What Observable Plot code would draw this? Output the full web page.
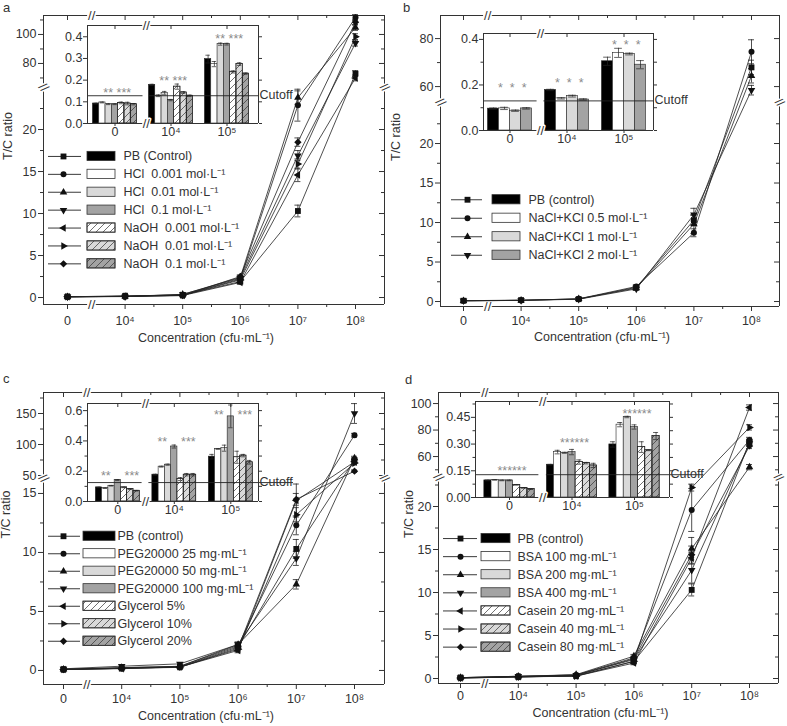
<!DOCTYPE html>
<html><head><meta charset="utf-8">
<script src="https://cdn.jsdelivr.net/npm/d3@7"></script>
<script src="https://cdn.jsdelivr.net/npm/@observablehq/plot@0.6"></script>
<style>
body{margin:0;background:#fff;font-family:"Liberation Sans",Arial,sans-serif;}
#page{position:relative;width:787px;height:726px;overflow:hidden;background:#fff;}
.abs{position:absolute;}
.abs svg{display:block;overflow:visible;}
.letter{position:absolute;font-size:13px;line-height:1;color:#333;}
</style></head>
<body>
<svg width="0" height="0" style="position:absolute">
<defs>
<pattern id="hatch" patternUnits="userSpaceOnUse" width="7" height="7">
<path d="M0,7 L7,0 M-1,1 L1,-1 M6,8 L8,6" stroke="#333" stroke-width="0.7" fill="none"/>
</pattern>
</defs></svg>
<div id="page">
<div class="letter" style="left:3px;top:1px">a</div>
<div class="letter" style="left:403px;top:1px">b</div>
<div class="letter" style="left:3px;top:372px">c</div>
<div class="letter" style="left:405px;top:373px">d</div>
</div>
<script>
// ---------- shared labels ----------
const xLabels = ["0", "10⁴", "10⁵", "10⁶", "10⁷", "10⁸"];
const insetLabels = ["0", "10⁴", "10⁵"];
const xLabelText = "Concentration (cfu·mL⁻¹)";
const yLabelText = "T/C ratio";

// ---------- panel a ----------
const aNames = ["PB (Control)", "HCl  0.001 mol·L⁻¹", "HCl  0.01 mol·L⁻¹", "HCl  0.1 mol·L⁻¹",
  "NaOH  0.001 mol·L⁻¹", "NaOH  0.01 mol·L⁻¹", "NaOH  0.1 mol·L⁻¹"];
const aValues = [
  [0.09, 0.18, 0.30, 1.9, 10.3, 73],
  [0.10, 0.13, 0.27, 2.2, 22.9, 111.7],
  [0.09, 0.14, 0.37, 2.4, 23.8, 104.8],
  [0.09, 0.11, 0.37, 2.3, 16.9, 94],
  [0.10, 0.17, 0.24, 1.8, 14.6, 70],
  [0.09, 0.14, 0.27, 2.1, 15.9, 98.5],
  [0.09, 0.13, 0.23, 2.5, 18.5, 108.5]];
const aErrors = [
  [0, 0, 0, 0.2, 0.7, 2], [0, 0, 0, 0.2, 1.9, 2], [0, 0, 0, 0.2, 0.8, 2], [0, 0, 0, 0.2, 0.6, 2],
  [0, 0, 0, 0.2, 0.8, 2], [0, 0, 0, 0.2, 0.6, 2], [0, 0, 0, 0.2, 0.5, 2]];
const aInset = [
  [0.092, 0.178, 0.297], [0.097, 0.128, 0.274], [0.089, 0.140, 0.366], [0.089, 0.108, 0.366],
  [0.095, 0.170, 0.238], [0.092, 0.143, 0.274], [0.089, 0.128, 0.230]];
const aInsetErr = [
  [0.002, 0.003, 0.018], [0.002, 0.004, 0.012], [0.002, 0.008, 0.005], [0.002, 0.003, 0.004],
  [0.004, 0.012, 0.005], [0.006, 0.004, 0.006], [0.003, 0.003, 0.003]];
const aStars = ["** ***", "** ***", "** ***"];
const aStarY = [0.155, 0.21, 0.405];
const aCutoff = 0.128;

// ---------- panel b ----------
const bNames = ["PB (control)", "NaCl+KCl 0.5 mol·L⁻¹", "NaCl+KCl 1 mol·L⁻¹", "NaCl+KCl 2 mol·L⁻¹"];
const bValues = [
  [0.10, 0.18, 0.30, 1.8, 10.3, 68],
  [0.10, 0.14, 0.34, 1.9, 8.7, 74.5],
  [0.09, 0.15, 0.34, 1.7, 9.8, 64.5],
  [0.10, 0.14, 0.29, 1.6, 11.0, 58.5]];
const bErrors = [[0, 0, 0, 0.2, 0.6, 3], [0, 0, 0, 0.2, 0.5, 5], [0, 0, 0, 0.2, 1.2, 3], [0, 0, 0, 0.2, 0.8, 2]];
const bInset = [[0.096, 0.178, 0.304], [0.097, 0.141, 0.341], [0.087, 0.151, 0.336], [0.097, 0.136, 0.289]];
const bInsetErr = [[0.003, 0.003, 0.018], [0.005, 0.003, 0.02], [0.003, 0.004, 0.004], [0.003, 0.003, 0.018]];
const bStars = ["*  *  *", "*  *  *", "*  *  *"];
const bStarY = [0.2, 0.22, 0.39];
const bCutoff = 0.13;

// ---------- panel c ----------
const cNames = ["PB (control)", "PEG20000 25 mg·mL⁻¹", "PEG20000 50 mg·mL⁻¹", "PEG20000 100 mg·mL⁻¹",
  "Glycerol 5%", "Glycerol 10%", "Glycerol 20%"];
const cValues = [
  [0.09, 0.18, 0.30, 2.0, 10.3, 75],
  [0.09, 0.23, 0.35, 2.1, 12.3, 115],
  [0.10, 0.24, 0.35, 2.2, 7.3, 78],
  [0.14, 0.36, 0.56, 2.2, 9.5, 150],
  [0.09, 0.15, 0.29, 1.7, 14.4, 72],
  [0.08, 0.18, 0.30, 1.8, 13.2, 70],
  [0.07, 0.18, 0.26, 1.9, 14.5, 57]];
const cErrors = [
  [0, 0, 0, 0.2, 0.8, 3], [0, 0, 0, 0.2, 0.8, 3], [0, 0, 0, 0.2, 0.4, 3], [0, 0, 0, 0.2, 0.6, 16],
  [0, 0, 0, 0.2, 1.4, 3], [0, 0, 0, 0.2, 0.6, 3], [0, 0, 0, 0.2, 0.5, 2]];
const cInset = [
  [0.093, 0.177, 0.296], [0.088, 0.230, 0.347], [0.104, 0.243, 0.352], [0.142, 0.363, 0.562],
  [0.093, 0.148, 0.292], [0.082, 0.177, 0.303], [0.071, 0.177, 0.259]];
const cInsetErr = [
  [0.002, 0.003, 0.015], [0.002, 0.003, 0.003], [0.002, 0.004, 0.02], [0.003, 0.01, 0.075],
  [0.002, 0.01, 0.04], [0.002, 0.008, 0.008], [0.002, 0.008, 0.012]];
const cStars = ["**    ***", "**    ***", "**    ***"];
const cStarY = [0.19, 0.41, 0.59];
const cCutoff = 0.125;

// ---------- panel d ----------
const dNames = ["PB (control)", "BSA 100 mg·mL⁻¹", "BSA 200 mg·mL⁻¹", "BSA 400 mg·mL⁻¹",
  "Casein 20 mg·mL⁻¹", "Casein 40 mg·mL⁻¹", "Casein 80 mg·mL⁻¹"];
const dValues = [
  [0.10, 0.18, 0.30, 2.0, 10.3, 71],
  [0.10, 0.26, 0.41, 2.4, 19.6, 72.5],
  [0.10, 0.25, 0.45, 2.6, 15.1, 52],
  [0.10, 0.26, 0.40, 2.2, 12.6, 70],
  [0.07, 0.20, 0.28, 1.8, 14.0, 97],
  [0.05, 0.19, 0.27, 2.0, 22.2, 82],
  [0.05, 0.18, 0.35, 2.3, 14.4, 68]];
const dErrors = [
  [0, 0, 0, 0.2, 0.7, 2], [0, 0, 0, 0.2, 2.5, 2], [0, 0, 0, 0.2, 1.3, 2], [0, 0, 0, 0.2, 1.5, 2],
  [0, 0, 0, 0.2, 0.7, 2], [0, 0, 0, 0.2, 0.4, 2], [0, 0, 0, 0.2, 1.0, 2]];
const dInset = [
  [0.096, 0.184, 0.298], [0.099, 0.255, 0.409], [0.096, 0.251, 0.452], [0.096, 0.255, 0.396],
  [0.071, 0.199, 0.283], [0.054, 0.193, 0.265], [0.047, 0.180, 0.345]];
const dInsetErr = [
  [0.002, 0.002, 0.015], [0.002, 0.01, 0.012], [0.002, 0.003, 0.004], [0.002, 0.015, 0.012],
  [0.002, 0.012, 0.03], [0.002, 0.004, 0.002], [0.002, 0.012, 0.02]];
const dStars = ["******", "******", "******"];
const dStarY = [0.165, 0.325, 0.485];
const dCutoff = 0.128;

// ---------- styling tables ----------
const sym7 = ["square", "circle", "up", "down", "left", "right", "diamond"];
const sym4 = ["square", "circle", "up", "down"];
const fill7 = ["#000", "#fff", "#d9d9d9", "#a3a3a3", "#fff", "#d9d9d9", "#a3a3a3"];
const fill4 = ["#000", "#fff", "#d9d9d9", "#a3a3a3"];
const hatch7 = [0, 0, 0, 0, 1, 1, 1];
const hatch4 = [0, 0, 0, 0];

const s3 = Math.sqrt(3);
const tri = rot => ({draw(ctx, size) {
  const y = -Math.sqrt(size / (s3 * 3));
  const p = [[0, 2 * y], [-s3 * y, -y], [s3 * y, -y]].map(([a, b]) => rot(a, b));
  ctx.moveTo(p[0][0], p[0][1]); ctx.lineTo(p[1][0], p[1][1]); ctx.lineTo(p[2][0], p[2][1]); ctx.closePath();
}});
const diamond2 = d3.symbolDiamond2 || {draw(ctx, size) {
  const r = Math.sqrt(size) * 0.7071; ctx.moveTo(0, -r); ctx.lineTo(r, 0); ctx.lineTo(0, r); ctx.lineTo(-r, 0); ctx.closePath();
}};
const SYM = {square: d3.symbolSquare, circle: d3.symbolCircle, up: tri((a, b) => [a, b]), down: tri((a, b) => [a, -b]),
  left: tri((a, b) => [b, a]), right: tri((a, b) => [-b, a]), diamond: diamond2};
const RAD = {square: 3.3, circle: 3.0, up: 2.8, down: 2.8, left: 2.8, right: 2.8, diamond: 3.3};
const INK = "#333";
const page = document.getElementById("page");

function place(svg, left, top, w, h) {
  const div = document.createElement("div");
  div.className = "abs";
  div.style.left = left + "px"; div.style.top = top + "px";
  div.style.width = w + "px"; div.style.height = h + "px";
  div.appendChild(svg);
  page.appendChild(div);
}
const baseStyle = {background: "transparent", fontFamily: "'Liberation Sans', Arial, sans-serif", fontSize: "12px", color: INK, overflow: "visible"};
const brk = {text: d => d, fill: INK, stroke: "white", strokeWidth: 3, fontSize: 13};

function mainPanel(p) {
  const H = p.hL + p.gap + p.hU;
  const f = v => v < p.split ? (v - p.l0) * p.kL : p.hL + p.gap + (v - p.u0) * p.kU;
  const xmin = (p.L - p.x0) / p.dx, xmax = (p.R - p.x0) / p.dx;
  const mL = p.mL, mR = 8, mT = 4, mB = 46;
  const W = (p.R - p.L) + mL + mR;
  const rows = [];
  p.names.forEach((n, s) => p.values[s].forEach((v, i) => rows.push({s, i, v, e: p.errors[s][i]})));
  const errRows = rows.filter(d => d.e > 0);
  const cap = 3 / p.dx;
  const yMaj = [...p.majL, ...p.majU], yMin = [...p.minL, ...p.minU];
  const yMajF = yMaj.map(f), yMinF = yMin.map(f);
  const gx = 0.07;
  const xMaj = [0, 1, 2, 3, 4, 5], xMin = [1.5, 2.5, 3.5, 4.5];
  const marks = [
    Plot.ruleX([xmin, xmax], {x: d => d, y1: 0, y2: p.hL, stroke: INK}),
    Plot.ruleX([xmin, xmax], {x: d => d, y1: p.hL + p.gap, y2: H, stroke: INK}),
    Plot.ruleY([0, H], {y: d => d, x1: xmin, x2: p.xbrk - gx, stroke: INK}),
    Plot.ruleY([0, H], {y: d => d, x1: p.xbrk + gx, x2: xmax, stroke: INK}),
    Plot.axisY({ticks: yMajF, tickFormat: d => String(yMaj[yMajF.indexOf(d)]), tickSize: 5, tickPadding: 2, fontSize: 12.5, label: null}),
    Plot.axisY({ticks: yMinF, tickFormat: () => "", tickSize: 3, label: null}),
    Plot.ruleY(yMajF, {y: d => d, x1: xmax - 5 / p.dx, x2: xmax, stroke: INK}),
    Plot.ruleY(yMinF, {y: d => d, x1: xmax - 3 / p.dx, x2: xmax, stroke: INK}),
    Plot.axisX({ticks: xMaj, tickFormat: i => xLabels[i], tickSize: 5, tickPadding: p.xPad, fontSize: 12.5, label: null}),
    Plot.axisX({ticks: xMin, tickFormat: () => "", tickSize: 3, label: null}),
    Plot.ruleX(xMaj, {x: d => d, y1: H - 5, y2: H, stroke: INK}),
    Plot.ruleX(xMin, {x: d => d, y1: H - 3, y2: H, stroke: INK}),
    Plot.text(["//"], {...brk, x: xmin, y: p.hL + p.gap / 2, rotate: 50, fontSize: 13}),
    Plot.text(["//"], {...brk, x: xmax, y: p.hL + p.gap / 2, rotate: 50, fontSize: 12}),
    Plot.text(["//"], {...brk, x: p.xbrk, y: 0}),
    Plot.text(["//"], {...brk, x: p.xbrk, y: H}),
    Plot.line(rows, {x: "i", y: d => f(d.v), z: "s", stroke: "#222", strokeWidth: 0.8}),
    Plot.ruleX(errRows, {x: "i", y1: d => f(d.v - d.e), y2: d => f(d.v + d.e), stroke: "#222", strokeWidth: 0.8}),
    Plot.ruleY(errRows, {y: d => f(d.v + d.e), x1: d => d.i - cap, x2: d => d.i + cap, stroke: "#222", strokeWidth: 0.8}),
    Plot.ruleY(errRows, {y: d => f(d.v - d.e), x1: d => d.i - cap, x2: d => d.i + cap, stroke: "#222", strokeWidth: 0.8}),
    ...p.names.map((n, s) => Plot.dot(rows.filter(d => d.s === s), {x: "i", y: d => f(d.v), symbol: SYM[p.syms[s]], r: RAD[p.syms[s]], fill: "#111", stroke: "none"})),
    Plot.text([yLabelText], {frameAnchor: "left", dx: -p.labDx, rotate: -90, fontSize: 12.5}),
    Plot.text([xLabelText], {frameAnchor: "bottom", dy: p.xlabDy, dx: -8, fontSize: 12.5})
  ];
  const svg = Plot.plot({width: W, height: H + mT + mB, marginLeft: mL, marginRight: mR, marginTop: mT, marginBottom: mB,
    x: {domain: [xmin, xmax]}, y: {domain: [0, H]}, style: baseStyle, marks});
  place(svg, p.L - mL, p.B - H - mT, W, H + mT + mB);
}

function insetPanel(q) {
  const n = q.names.length;
  const xmin = (q.L - q.g0) / q.dx, xmax = (q.R - q.g0) / q.dx;
  const Hh = q.B - q.T;
  const mL = 34, mR = 52, mT = 4, mB = 22;
  const W = (q.R - q.L) + mL + mR;
  const bars = [];
  q.vals.forEach((arr, s) => arr.forEach((v, g) => {
    const x1 = g + (s - n / 2) * q.bw;
    bars.push({s, g, v, e: q.errs[s][g], x1, x2: x1 + q.bw, xc: x1 + q.bw / 2, fill: q.fills[s], hatch: q.hatch[s]});
  }));
  const cw = q.bw * 0.35, gx = 0.06;
  const fmt = d3.format(q.fmt);
  const marks = [
    Plot.frame({fill: "white", stroke: "none"}),
    Plot.rectY(bars, {x1: "x1", x2: "x2", y1: 0, y2: "v", fill: "fill", stroke: "#222", strokeWidth: 0.6}),
    Plot.rectY(bars.filter(d => d.hatch), {x1: "x1", x2: "x2", y1: 0, y2: "v", fill: "url(#hatch)", stroke: "#222", strokeWidth: 0.6}),
    Plot.ruleX(bars, {x: "xc", y1: d => d.v - d.e, y2: d => d.v + d.e, stroke: "#222", strokeWidth: 0.7}),
    Plot.ruleY(bars, {y: d => d.v + d.e, x1: d => d.xc - cw, x2: d => d.xc + cw, stroke: "#222", strokeWidth: 0.7}),
    Plot.ruleY(bars, {y: d => d.v - d.e, x1: d => d.xc - cw, x2: d => d.xc + cw, stroke: "#222", strokeWidth: 0.7}),
    Plot.ruleY([q.cut], {y: d => d, x1: xmin, x2: q.brk - gx, stroke: "#222", strokeWidth: 0.9}),
    Plot.ruleY([q.cut], {y: d => d, x1: q.brk + gx, x2: xmax + q.cutExt, stroke: "#222", strokeWidth: 0.9}),
    Plot.text(["Cutoff"], {x: xmax, y: q.cut, textAnchor: "start", lineAnchor: "bottom", dx: 1, dy: 3, fontSize: 12.5}),
    Plot.text(q.stars, {x: (d, i) => i + 0.04, y: (d, i) => q.starY[i], fill: "#8a8a8a", fontSize: 12.5, dy: 3}),
    Plot.ruleX([xmin, xmax], {x: d => d, y1: 0, y2: q.ymax, stroke: INK}),
    Plot.ruleY([0, q.ymax], {y: d => d, x1: xmin, x2: q.brk - gx, stroke: INK}),
    Plot.ruleY([0, q.ymax], {y: d => d, x1: q.brk + gx, x2: xmax, stroke: INK}),
    Plot.text(["//"], {...brk, x: q.brk, y: 0}),
    Plot.text(["//"], {...brk, x: q.brk, y: q.ymax}),
    Plot.axisY({ticks: q.yMaj, tickFormat: fmt, tickSize: 4, tickPadding: 1, fontSize: 12.5, label: null}),
    Plot.axisY({ticks: q.yMin, tickFormat: () => "", tickSize: 2.5, label: null}),
    Plot.axisY({ticks: [...q.yMaj, ...q.yMin], tickFormat: () => "", tickSize: 3, anchor: "right", label: null}),
    Plot.axisX({ticks: [0, 1, 2], tickFormat: i => insetLabels[i], tickSize: 3, tickPadding: 1, fontSize: 12.5, label: null}),
    Plot.ruleX([0, 1, 2], {x: d => d, y1: q.ymax * (1 - 4 / Hh), y2: q.ymax, stroke: INK})
  ];
  const svg = Plot.plot({width: W, height: Hh + mT + mB, marginLeft: mL, marginRight: mR, marginTop: mT, marginBottom: mB,
    x: {domain: [xmin, xmax]}, y: {domain: [0, q.ymax]}, color: {type: "identity"}, style: baseStyle, marks});
  place(svg, q.L - mL, q.T - mT, W, Hh + mT + mB);
}

function legendPanel(g) {
  const n = g.names.length;
  const W = 250, Hh = n * g.rowH;
  const rows = g.names.map((name, k) => ({name, k, c: k + 0.5, fill: g.fills[k], hatch: g.hatch[k], sym: g.syms[k]}));
  const bh = 4.6 / g.rowH;
  const marks = [
    Plot.ruleY(rows, {y: "c", x1: g.line[0], x2: g.line[1], stroke: "#222", strokeWidth: 0.9}),
    ...rows.map(r => Plot.dot([r], {x: g.mark, y: "c", symbol: SYM[r.sym], r: RAD[r.sym], fill: "#111", stroke: "none"})),
    Plot.rect(rows, {x1: g.box[0], x2: g.box[1], y1: d => d.c - bh, y2: d => d.c + bh, fill: "fill", stroke: "#333", strokeWidth: 0.8}),
    Plot.rect(rows.filter(d => d.hatch), {x1: g.box[0], x2: g.box[1], y1: d => d.c - bh, y2: d => d.c + bh, fill: "url(#hatch)", stroke: "#333", strokeWidth: 0.8}),
    Plot.text(rows, {x: g.text, y: "c", text: "name", textAnchor: "start", fontSize: 12.5})
  ];
  const svg = Plot.plot({width: W, height: Hh, margin: 0, x: {domain: [0, W], axis: null},
    y: {domain: [0, n], range: [0, Hh], axis: null}, color: {type: "identity"}, style: baseStyle, marks});
  place(svg, g.left, g.top, W, Hh);
}

// ---------- build ----------
mainPanel({names: aNames, values: aValues, errors: aErrors, syms: sym7, L: 43, R: 384, B: 304, x0: 67, dx: 57.6,
  kL: 8.4, l0: -0.83, hL: 215, gap: 4, kU: 1.45, u0: 64.8, hU: 70, split: 40, xbrk: 0.42,
  majL: [0, 5, 10, 15, 20], minL: [2.5, 7.5, 12.5, 17.5, 22.5], majU: [80, 100], minU: [70, 90, 110], labDx: 36, mL: 43, xlabDy: 37, xPad: 7});
mainPanel({names: bNames, values: bValues, errors: bErrors, syms: sym4, L: 440, R: 779, B: 306, x0: 463, dx: 57.6,
  kL: 7.9, l0: -0.63, hL: 202, gap: 4, kU: 2.4, u0: 54.2, hU: 85, split: 40, xbrk: 0.42,
  majL: [0, 5, 10, 15, 20], minL: [2.5, 7.5, 12.5, 17.5, 22.5], majU: [60, 80], minU: [70], labDx: 45, mL: 52, xlabDy: 34, xPad: 5});
mainPanel({names: cNames, values: cValues, errors: cErrors, syms: sym7, L: 43, R: 384, B: 684, x0: 63, dx: 58.2,
  kL: 11.8, l0: -1.19, hL: 204, gap: 4, kU: 0.62, u0: 48.4, hU: 84, split: 30, xbrk: 0.4,
  majL: [0, 5, 10, 15], minL: [2.5, 7.5, 12.5], majU: [50, 100, 150], minU: [75, 125, 175], labDx: 38, mL: 43, xlabDy: 35, xPad: 5});
mainPanel({names: dNames, values: dValues, errors: dErrors, syms: sym7, L: 438, R: 778, B: 683, x0: 460, dx: 57.8,
  kL: 8.6, l0: -0.58, hL: 204, gap: 4, kU: 1.325, u0: 45.7, hU: 83, split: 35, xbrk: 0.42,
  majL: [0, 5, 10, 15, 20], minL: [2.5, 7.5, 12.5, 17.5, 22.5], majU: [60, 80, 100], minU: [50, 70, 90], labDx: 30, mL: 40, xlabDy: 33, xPad: 3});

insetPanel({names: aNames, vals: aInset, errs: aInsetErr, fills: fill7, hatch: hatch7, stars: aStars, starY: aStarY, cut: aCutoff,
  L: 87, R: 258, T: 25, B: 123, g0: 114.5, dx: 56, ymax: 0.452, bw: 0.1125, brk: 0.56, cutExt: 0,
  yMaj: [0, 0.1, 0.2, 0.3, 0.4], yMin: [], fmt: ".1f"});
insetPanel({names: bNames, vals: bInset, errs: bInsetErr, fills: fill4, hatch: hatch4, stars: bStars, starY: bStarY, cut: bCutoff,
  L: 483, R: 653, T: 33, B: 130, g0: 509.5, dx: 57, ymax: 0.426, bw: 0.193, brk: 0.535, cutExt: 0,
  yMaj: [0, 0.2, 0.4], yMin: [0.1, 0.3], fmt: ".1f"});
insetPanel({names: cNames, vals: cInset, errs: cInsetErr, fills: fill7, hatch: hatch7, stars: cStars, starY: cStarY, cut: cCutoff,
  L: 87, R: 258, T: 403, B: 501, g0: 117.3, dx: 56.5, ymax: 0.647, bw: 0.111, brk: 0.49, cutExt: 0.62,
  yMaj: [0, 0.2, 0.4, 0.6], yMin: [0.1, 0.3, 0.5], fmt: ".1f"});
insetPanel({names: dNames, vals: dInset, errs: dInsetErr, fills: fill7, hatch: hatch7, stars: dStars, starY: dStarY, cut: dCutoff,
  L: 475, R: 669, T: 401, B: 497, g0: 509, dx: 62.5, ymax: 0.539, bw: 0.115, brk: 0.53, cutExt: 0.55,
  yMaj: [0, 0.15, 0.30, 0.45], yMin: [0.075, 0.225, 0.375, 0.525], fmt: ".2f"});

legendPanel({names: aNames, syms: sym7, fills: fill7, hatch: hatch7, left: 48, top: 147, rowH: 17.9, line: [0, 33], mark: 15, box: [39, 67], text: 75});
legendPanel({names: bNames, syms: sym4, fills: fill4, hatch: hatch4, left: 451, top: 190, rowH: 18.5, line: [0, 31], mark: 16, box: [41, 69], text: 77});
legendPanel({names: cNames, syms: sym7, fills: fill7, hatch: hatch7, left: 48, top: 527, rowH: 17.5, line: [0, 32], mark: 15, box: [35, 67], text: 69});
legendPanel({names: dNames, syms: sym7, fills: fill7, hatch: hatch7, left: 443, top: 529, rowH: 18.1, line: [0, 34], mark: 17, box: [38, 67], text: 74});
</script>
</body></html>
